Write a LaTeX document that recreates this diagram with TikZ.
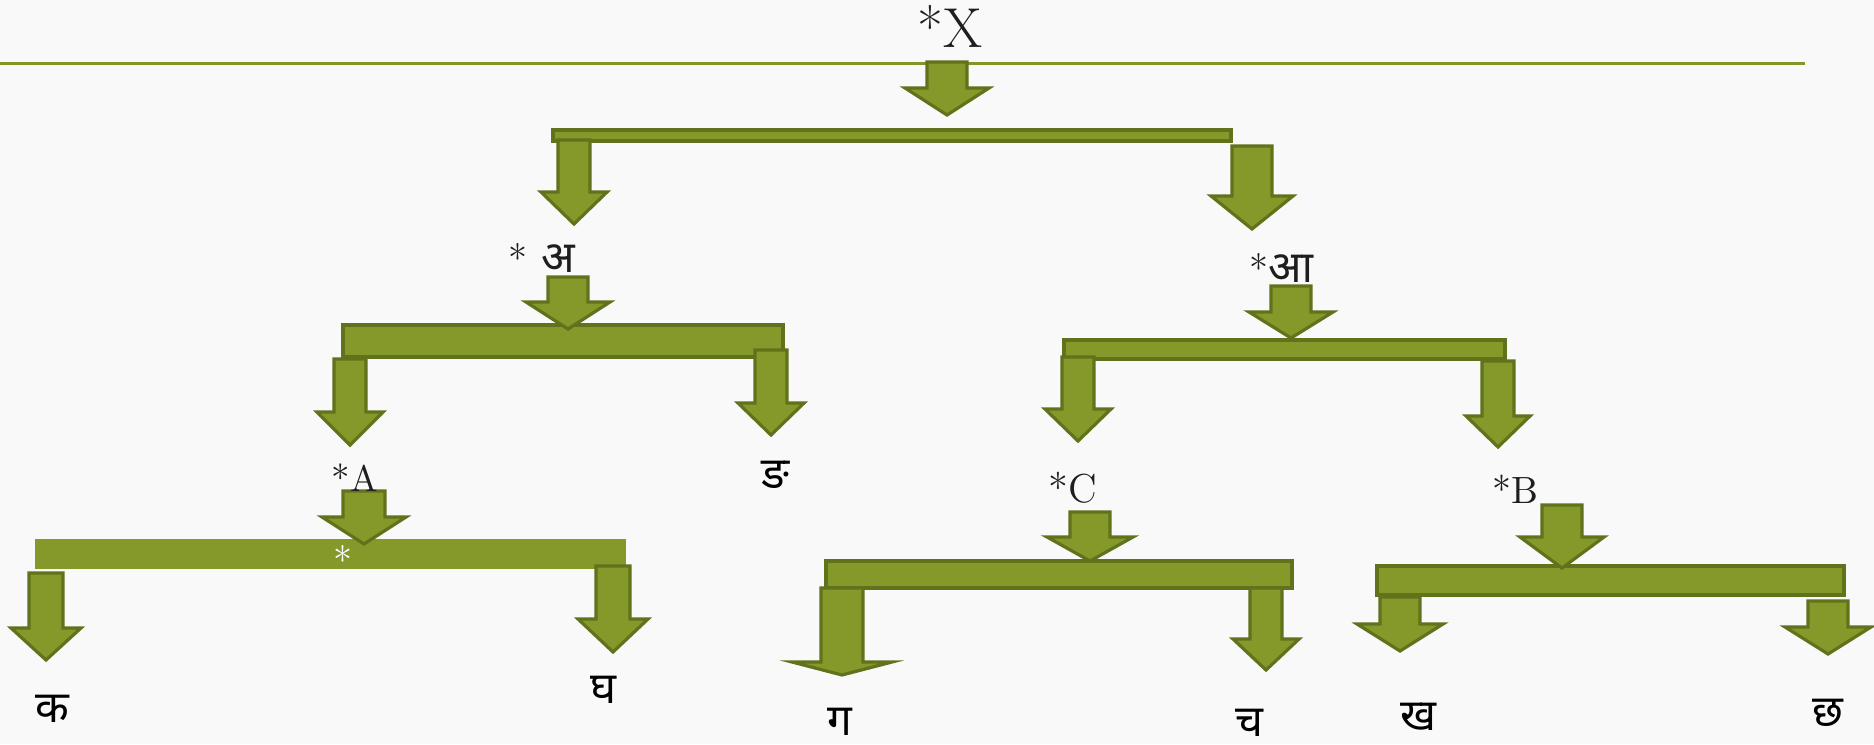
\documentclass[tikz,border=0pt]{standalone}
\usepackage{fontspec}
\newfontfamily\deva[Script=Devanagari]{Noto Sans}
\definecolor{pagebg}{RGB}{249,249,249}
\definecolor{olivefill}{RGB}{132,153,41}
\definecolor{oliveedge}{RGB}{96,115,28}
\definecolor{ruleline}{RGB}{128,150,40}
\definecolor{inkgray}{RGB}{30,30,30}

% block arrow pointing down: centre x, half shaft, half head, top, shoulder, tip
\newcommand\dnarrow[6]{%
  \path[blk] (#1-#2,#4) -- (#1+#2,#4) -- (#1+#2,#5) -- (#1+#3,#5)
    -- (#1,#6) -- (#1-#3,#5) -- (#1-#2,#5) -- cycle;}

\begin{document}
\begin{tikzpicture}[x=0.01cm,y=-0.01cm,
  blk/.style={fill=olivefill,draw=oliveedge,line width=0.9pt,line join=miter},
  flatbar/.style={fill=olivefill},
  lat/.style={inner sep=0pt,anchor=base,text=inkgray},
  dev/.style={inner sep=0pt,anchor=base,font=\deva\fontsize{12.5}{15}\selectfont}]
\fill[pagebg] (0,0) rectangle (1874,744);
\useasboundingbox (0,0) rectangle (1874,744);

% root
\node[lat,font=\fontsize{16}{19}\selectfont] (root) at (950,47) {*X};
\draw[ruleline,line width=0.85pt] (0,63) -- (1805,63);

% bars
\path[blk] (553,130) rectangle (1231,141);
\path[blk] (343,325) rectangle (783,357);
\path[flatbar] (35,539) rectangle (626,569);
\path[blk] (1064,340) rectangle (1505,359);
\path[blk] (826,561) rectangle (1292,588);
\path[blk] (1377,566) rectangle (1844,595);

% arrows
\dnarrow{947}{20}{42}{62}{88}{115}
\dnarrow{574}{16}{33}{140}{192}{224}
\dnarrow{1252}{20}{41}{146}{196}{229}
\dnarrow{568}{20}{42}{277}{302}{329}
\dnarrow{350}{16}{33}{359}{412}{445}
\dnarrow{771}{16}{33}{350}{403}{435}
\dnarrow{364}{21}{42}{491}{517}{544}
\dnarrow{46}{17}{35}{573}{628}{660}
\dnarrow{613}{17}{35}{566}{619}{652}
\dnarrow{1291}{20}{42}{286}{312}{338}
\dnarrow{1078}{16}{33}{357}{409}{441}
\dnarrow{1498}{16}{32}{361}{416}{447}
\dnarrow{1090}{20}{43}{512}{537}{561}
\dnarrow{842}{21}{50}{588}{662}{675}
\dnarrow{1266}{16}{33}{588}{639}{670}
\dnarrow{1562}{20}{42}{505}{537}{568}
\dnarrow{1400}{20}{43}{597}{624}{651}
\dnarrow{1828}{20}{43}{601}{627}{654}

% proto-forms
\node[lat,font=\fontsize{11}{13}\selectfont] (pa) at (542,272) {*\hspace{4pt}{\deva\fontsize{12.5}{15}\selectfont अ}};
\node[lat,font=\fontsize{11}{13}\selectfont] (paa) at (1281,282) {*{\deva\fontsize{12.5}{15}\selectfont आ}};
\node[lat,font=\fontsize{10.5}{13}\selectfont] (pA) at (355,491) {*A};
\node[lat,font=\fontsize{11.5}{14}\selectfont] (pC) at (1073,502) {*C};
\node[lat,font=\fontsize{10.8}{13}\selectfont] (pB) at (1515,503) {*B};
\node[lat,text=white,font=\fontsize{11}{13}\selectfont] (star) at (343,574) {*};

% leaves
\node[dev] (nga) at (775,488) {ङ};
\node[dev] (ka) at (52,722) {क};
\node[dev] (gha) at (603,703) {घ};
\node[dev] (ga) at (840,735) {ग};
\node[dev] (ca) at (1249,736) {च};
\node[dev] (kha) at (1418,730) {ख};
\node[dev] (cha) at (1828,726) {छ};
\end{tikzpicture}
\end{document}
